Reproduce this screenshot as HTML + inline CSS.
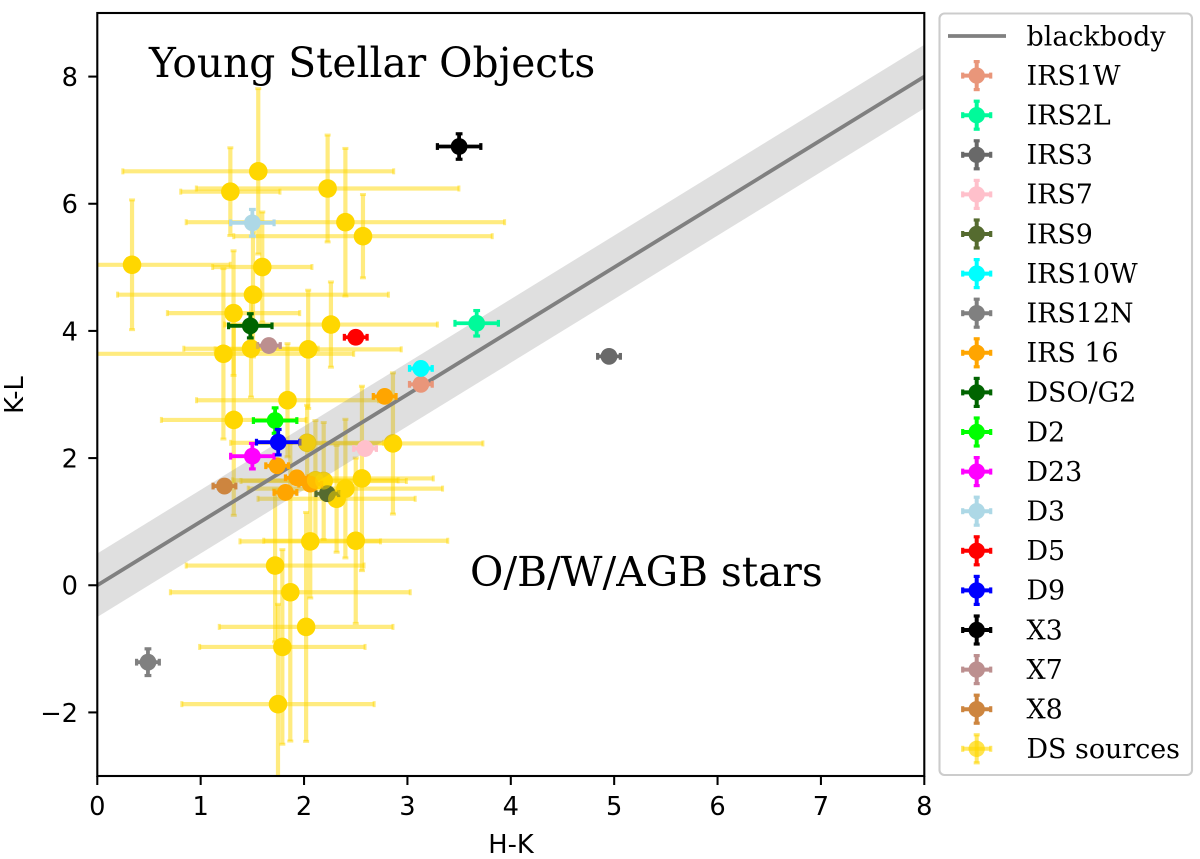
<!DOCTYPE html>
<html>
<head>
<meta charset="utf-8">
<title>Young Stellar Objects colour-colour diagram</title>
<style>
html,body{margin:0;padding:0;background:#fff;width:1200px;height:859px;overflow:hidden}
svg{display:block}
.sans{font-family:"DejaVu Sans","Liberation Sans",sans-serif;fill:#000}
.serif{font-family:"DejaVu Serif","Liberation Serif",serif;fill:#000}
</style>
</head>
<body>
<svg id="chart" xmlns="http://www.w3.org/2000/svg" width="1200" height="859" viewBox="0 0 1200 859">
  <defs><clipPath id="plot-clip"><rect x="97.3" y="13" width="827" height="763"/></clipPath></defs>
  <rect x="0" y="0" width="1200" height="859" fill="#fff"/>
  <g id="plot" clip-path="url(#plot-clip)"></g>
  <rect x="97.3" y="13" width="827" height="763" fill="none" stroke="#000" stroke-width="2.1"/>
  <g id="ticks"></g>
  <text class="sans" x="511" y="853" font-size="25.7" text-anchor="middle">H-K</text>
  <text class="sans" x="0" y="0" font-size="25.7" text-anchor="middle" transform="translate(23 395) rotate(-90)">K-L</text>
  <text class="serif" x="149" y="77" font-size="40.7">Young Stellar Objects</text>
  <text class="serif" x="470" y="586" font-size="40.7">O/B/W/AGB stars</text>
  <g id="legend"></g>
</svg>
<script>
// ---- chart data ----
const xTicks = [0, 1, 2, 3, 4, 5, 6, 7, 8];
const yTicks = [-2, 0, 2, 4, 6, 8];
const blackbodyHK = [0, 8];
const blackbodyKL = [0, 8];
const blackbodyBand = [0.5];

const namedLabels = ['IRS1W', 'IRS2L', 'IRS3', 'IRS7', 'IRS9', 'IRS10W', 'IRS12N', 'IRS 16', 'IRS 16', 'IRS 16', 'IRS 16', 'IRS 16', 'DSO/G2', 'D2', 'D23', 'D3', 'D5', 'D9', 'X3', 'X7', 'X8'];
const namedHK = [3.13, 3.67, 4.95, 2.59, 2.225, 3.13, 0.49, 2.78, 1.74, 1.93, 2.06, 1.82, 1.48, 1.72, 1.50, 1.50, 2.50, 1.75, 3.50, 1.66, 1.23];
const namedKL = [3.16, 4.12, 3.60, 2.15, 1.44, 3.41, -1.21, 2.97, 1.88, 1.69, 1.59, 1.46, 4.08, 2.59, 2.03, 5.70, 3.90, 2.25, 6.90, 3.77, 1.56];
const namedXerr = [0.11, 0.21, 0.11, 0.11, 0.11, 0.11, 0.11, 0.11, 0.11, 0.11, 0.11, 0.11, 0.21, 0.21, 0.21, 0.21, 0.11, 0.21, 0.21, 0.11, 0.11];
const namedYerr = [0.05, 0.20, 0.05, 0.05, 0.05, 0.05, 0.21, 0.05, 0.05, 0.05, 0.05, 0.05, 0.19, 0.20, 0.20, 0.21, 0.05, 0.20, 0.20, 0.05, 0.05];

const dsHK = [1.557, 1.287, 2.228, 2.40, 2.57, 0.336, 1.596, 1.506, 1.318, 2.26, 1.22, 1.487, 2.04, 1.84, 1.32, 2.03, 2.11, 2.19, 2.40, 2.315, 2.56, 2.86, 2.06, 2.50, 1.72, 1.867, 2.02, 1.79, 1.748];
const dsKL = [6.51, 6.19, 6.24, 5.71, 5.49, 5.04, 5.005, 4.57, 4.28, 4.10, 3.64, 3.72, 3.71, 2.91, 2.60, 2.24, 1.65, 1.64, 1.52, 1.36, 1.68, 2.23, 0.69, 0.70, 0.31, -0.11, -0.655, -0.97, -1.87];
const dsXerr = [1.31, 0.48, 1.27, 1.54, 1.25, 0.95, 0.48, 1.31, 0.64, 1.03, 1.26, 0.65, 0.90, 0.88, 0.70, 0.74, 0.80, 0.80, 0.94, 0.76, 0.69, 0.87, 0.68, 0.89, 0.86, 1.16, 0.84, 0.80, 0.93];
const dsYerr = [1.30, 0.69, 0.84, 1.16, 0.655, 1.02, 0.865, 0.98, 0.98, 0.67, 1.34, 0.76, 0.93, 0.89, 1.50, 0.59, 0.94, 0.92, 1.09, 0.84, 1.45, 1.11, 0.89, 1.30, 1.20, 2.34, 1.80, 1.53, 1.57];

const legendLabels = ['IRS1W', 'IRS2L', 'IRS3', 'IRS7', 'IRS9', 'IRS10W', 'IRS12N', 'IRS 16', 'DSO/G2', 'D2', 'D23', 'D3', 'D5', 'D9', 'X3', 'X7', 'X8', 'DS sources'];
const blackbodyLabel = 'blackbody';
const sourceColor = {
  'IRS1W': '#e9967a', 'IRS2L': '#00fa9a', 'IRS3': '#696969', 'IRS7': '#ffc0cb', 'IRS9': '#556b2f',
  'IRS10W': '#00ffff', 'IRS12N': '#808080', 'IRS 16': '#ffa500', 'DSO/G2': '#006400', 'D2': '#00ff00',
  'D23': '#ff00ff', 'D3': '#add8e6', 'D5': '#ff0000', 'D9': '#0000ff', 'X3': '#000000',
  'X7': '#bc8f8f', 'X8': '#cd853f', 'DS sources': '#ffd700'
};

// ---- axis functions ----
const PLOT_LEFT = 97.3, PLOT_RIGHT = 924.3, PLOT_TOP = 13, PLOT_BOTTOM = 776;
const X_MIN = 0, X_MAX = 8, Y_MIN = -3, Y_MAX = 9;
function xScale(v) { return PLOT_LEFT + (v - X_MIN) / (X_MAX - X_MIN) * (PLOT_RIGHT - PLOT_LEFT); }
function yScale(v) { return PLOT_BOTTOM - (v - Y_MIN) / (Y_MAX - Y_MIN) * (PLOT_BOTTOM - PLOT_TOP); }

const NS = 'http://www.w3.org/2000/svg';
function mk(tag, parent, attrs) {
  const el = document.createElementNS(NS, tag);
  for (const k in attrs) el.setAttribute(k, attrs[k]);
  parent.appendChild(el);
  return el;
}
function errorbarLines(group, cx, cy, dx, dy, color, lw, capHalf, capThick, opacity) {
  const parts = [
    [cx - dx, cy, cx + dx, cy, lw],
    [cx, cy - dy, cx, cy + dy, lw],
    [cx - dx, cy - capHalf, cx - dx, cy + capHalf, capThick],
    [cx + dx, cy - capHalf, cx + dx, cy + capHalf, capThick],
    [cx - capHalf, cy - dy, cx + capHalf, cy - dy, capThick],
    [cx - capHalf, cy + dy, cx + capHalf, cy + dy, capThick]
  ];
  parts.forEach(function (p) {
    mk('line', group, { x1: p[0], y1: p[1], x2: p[2], y2: p[3], stroke: color, 'stroke-width': p[4], 'stroke-opacity': opacity });
  });
}

const plot = document.getElementById('plot');

// DS sources base layer (below the band): error bars then solid markers
dsHK.forEach(function (hk, i) {
  const g = mk('g', plot, {});
  
  
  const cx = xScale(hk), cy = yScale(dsKL[i]);
  const dx = xScale(dsXerr[i]) - xScale(0);
  const dy = yScale(0) - yScale(dsYerr[i]);
  errorbarLines(g, cx, cy, dx, dy, sourceColor['DS sources'], 4.2, 3, 3, 0.5);
});
dsHK.forEach(function (hk, i) {
  const c = mk('circle', plot, { cx: xScale(hk), cy: yScale(dsKL[i]), r: 9.3, fill: '#ffd700' });
  
  
});

// blackbody band
const band = mk('polygon', plot, {
  points: [
    [xScale(blackbodyHK[0]), yScale(blackbodyKL[0] + blackbodyBand[0])],
    [xScale(blackbodyHK[1]), yScale(blackbodyKL[1] + blackbodyBand[0])],
    [xScale(blackbodyHK[1]), yScale(blackbodyKL[1] - blackbodyBand[0])],
    [xScale(blackbodyHK[0]), yScale(blackbodyKL[0] - blackbodyBand[0])]
  ].map(function (p) { return p.join(','); }).join(' '),
  fill: '#808080', 'fill-opacity': 0.25
});



// blackbody line
const bbLine = mk('line', plot, {
  x1: xScale(blackbodyHK[0]), y1: yScale(blackbodyKL[0]),
  x2: xScale(blackbodyHK[1]), y2: yScale(blackbodyKL[1]),
  stroke: '#808080', 'stroke-width': 3.8
});



// named sources
namedLabels.forEach(function (label, i) {
  const g = mk('g', plot, {});
  
  
  const cx = xScale(namedHK[i]), cy = yScale(namedKL[i]);
  const dx = xScale(namedXerr[i]) - xScale(0);
  const dy = yScale(0) - yScale(namedYerr[i]);
  const color = sourceColor[label];
  errorbarLines(g, cx, cy, dx, dy, color, 3.8, 3.4, 3.2, 1);
  mk('circle', g, { cx: cx, cy: cy, r: 8.4, fill: color });
});

// DS sources translucent marker layer on top
dsHK.forEach(function (hk, i) {
  const c = mk('circle', plot, { cx: xScale(hk), cy: yScale(dsKL[i]), r: 8.6, fill: '#ffd700', 'fill-opacity': 0.5 });
  
  
});

// ticks
const ticks = document.getElementById('ticks');
xTicks.forEach(function (t) {
  const x = xScale(t);
  const tick = mk('line', ticks, { x1: x, y1: PLOT_BOTTOM, x2: x, y2: PLOT_BOTTOM + 9, stroke: '#000', 'stroke-width': 2.05 });
  
  
  const lab = mk('text', ticks, { x: x, y: 815, 'font-size': 25.7, 'text-anchor': 'middle', class: 'sans' });
  lab.textContent = String(t);
  
  
});
yTicks.forEach(function (t) {
  const y = yScale(t);
  const tick = mk('line', ticks, { x1: PLOT_LEFT, y1: y, x2: PLOT_LEFT - 9, y2: y, stroke: '#000', 'stroke-width': 2.05 });
  
  
  const lab = mk('text', ticks, { x: 78, y: y + 9.4, 'font-size': 25.7, 'text-anchor': 'end', class: 'sans' });
  lab.textContent = String(t).replace('-', '\u2212');
  
  
});

// legend
const legend = document.getElementById('legend');
const legendFrame = mk('rect', legend, { x: 939.5, y: 13.5, width: 252.5, height: 761.5, rx: 5, ry: 5, fill: '#fff', stroke: '#cccccc', 'stroke-width': 2.1 });



const LEGEND_START = 36, LEGEND_STEP = 39.6, LEGEND_TEXT_X = 1026.5, LEGEND_HANDLE_X = 976.7;
const bbEntry = mk('g', legend, {});


mk('line', bbEntry, { x1: 948, y1: LEGEND_START, x2: 1006, y2: LEGEND_START, stroke: '#808080', 'stroke-width': 3.8 });
const bbText = mk('text', bbEntry, { x: LEGEND_TEXT_X, y: LEGEND_START + 9.3, 'font-size': 26.9, class: 'serif' });
bbText.textContent = blackbodyLabel;

legendLabels.forEach(function (label, i) {
  const y = LEGEND_START + LEGEND_STEP * (i + 1);
  const g = mk('g', legend, {});
  
  
  const isDS = label === 'DS sources';
  const color = sourceColor[label];
  errorbarLines(g, LEGEND_HANDLE_X, y, 14, 14, color, 4, 3, 3.2, isDS ? 0.6 : 1);
  mk('circle', g, { cx: LEGEND_HANDLE_X, cy: y, r: 8.2, fill: color, 'fill-opacity': isDS ? 0.7 : 1 });
  const t = mk('text', g, { x: LEGEND_TEXT_X, y: y + 9.3, 'font-size': 26.9, class: 'serif' });
  t.textContent = label;
});
</script>
</body>
</html>
